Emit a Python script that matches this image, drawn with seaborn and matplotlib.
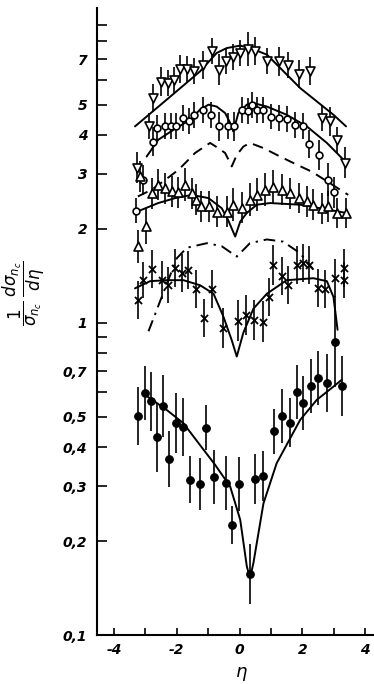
import numpy as np
import pandas as pd
import matplotlib
matplotlib.use("Agg")
import matplotlib.pyplot as plt
from matplotlib.ticker import NullLocator
import seaborn as sns

# ---------------- data ----------------
# inverted triangles (top series)
tri_dn_eta = [-3.27, -2.90, -2.76, -2.50, -2.29, -2.09, -1.89, -1.66, -1.44, -1.18, -0.87, -0.65, -0.43,
              -0.20, 0.02, 0.28, 0.49, 0.87, 1.26, 1.54, 1.90, 2.25, 2.62, 2.88, 3.10, 3.36]
tri_dn_val = [3.14, 4.26, 5.25, 5.93, 5.87, 6.01, 6.52, 6.52, 6.42, 6.71, 7.41, 6.47, 6.88,
              7.11, 7.32, 7.54, 7.41, 6.88, 6.88, 6.68, 6.28, 6.42, 4.53, 4.42, 3.86, 3.26]
tri_dn_err = [0.12, 0.10, 0.11, 0.11, 0.10, 0.10, 0.11, 0.10, 0.10, 0.11, 0.10, 0.12, 0.10,
              0.10, 0.10, 0.13, 0.11, 0.10, 0.11, 0.10, 0.11, 0.11, 0.10, 0.11, 0.10, 0.12]
fit_top_eta = [-3.33, -2.32, -1.26, -0.73, -0.41, 0.02, 0.40, 0.87, 1.93, 2.99, 3.39]
fit_top_val = [4.26, 5.19, 6.39, 7.32, 7.59, 7.73, 7.55, 7.23, 5.65, 4.64, 4.26]

# open circles
circ_eta = [-3.30, -3.06, -2.76, -2.62, -2.39, -2.19, -2.02, -1.81, -1.60, -1.44, -1.18, -0.91, -0.65,
            -0.38, -0.17, 0.07, 0.28, 0.39, 0.57, 0.76, 0.99, 1.24, 1.50, 1.77, 2.03, 2.22, 2.53, 2.81, 3.02]
circ_val = [2.29, 2.87, 3.81, 4.21, 4.26, 4.26, 4.28, 4.53, 4.42, 4.64, 4.82, 4.64, 4.26,
            4.26, 4.26, 4.82, 4.76, 5.00, 4.82, 4.82, 4.58, 4.53, 4.51, 4.31, 4.26, 3.75, 3.45, 2.87, 2.62]
circ_err = [0.10, 0.12, 0.11, 0.10, 0.10, 0.10, 0.10, 0.10, 0.10, 0.10, 0.10, 0.10, 0.11,
            0.10, 0.11, 0.10, 0.10, 0.10, 0.10, 0.10, 0.10, 0.10, 0.10, 0.10, 0.10, 0.11, 0.12, 0.13, 0.12]
fit_circ_eta = [-2.96, -2.59, -2.11, -1.58, -1.26, -0.99, -0.73, -0.46, -0.30, -0.20, -0.04, 0.23, 0.44,
                0.87, 1.50, 2.14, 2.78, 3.31]
fit_circ_val = [3.41, 3.86, 4.15, 4.47, 4.82, 5.00, 4.93, 4.70, 4.37, 4.10, 4.70, 5.00, 5.06,
                4.93, 4.64, 4.26, 3.77, 3.33]

# dashed curve
dash_eta = [-3.24, -2.80, -2.37, -1.95, -1.68, -1.42, -0.94, -0.68, -0.46, -0.30, -0.25, -0.09, 0.12,
            0.33, 0.76, 1.24, 1.77, 2.30, 2.88, 3.46]
dash_val = [2.54, 2.67, 2.87, 3.09, 3.29, 3.50, 3.77, 3.63, 3.50, 3.25, 3.17, 3.45, 3.67,
            3.77, 3.63, 3.43, 3.23, 3.05, 2.80, 2.57]

# open triangles
tri_up_eta = [-3.22, -2.99, -3.17, -2.80, -2.59, -2.37, -2.16, -1.97, -1.74, -1.52, -1.39, -1.23, -0.99,
              -0.73, -0.41, -0.20, 0.07, 0.33, 0.55, 0.81, 1.06, 1.34, 1.61, 1.89, 2.14, 2.35, 2.62,
              2.83, 3.10, 3.39]
tri_up_val = [1.76, 2.04, 2.95, 2.60, 2.77, 2.70, 2.64, 2.62, 2.77, 2.60, 2.48, 2.36, 2.36,
              2.27, 2.27, 2.39, 2.34, 2.48, 2.57, 2.67, 2.73, 2.67, 2.60, 2.51, 2.45, 2.39, 2.33,
              2.36, 2.25, 2.25]
tri_up_err = [0.13, 0.14, 0.12, 0.12, 0.12, 0.12, 0.12, 0.12, 0.13, 0.12, 0.12, 0.12, 0.12,
              0.12, 0.12, 0.13, 0.12, 0.13, 0.13, 0.13, 0.13, 0.12, 0.12, 0.12, 0.12, 0.12, 0.12,
              0.12, 0.12, 0.12]
fit_tri_eta = [-3.27, -2.59, -2.05, -1.52, -0.99, -0.57, -0.37, -0.14, 0.02, 0.23, 0.55, 0.97, 1.93,
               2.56, 3.39]
fit_tri_val = [2.27, 2.42, 2.51, 2.57, 2.51, 2.33, 2.14, 1.89, 2.11, 2.25, 2.39, 2.42, 2.39,
               2.33, 2.25]

# crosses
cross_eta = [-3.22, -3.06, -2.80, -2.46, -2.27, -2.05, -1.84, -1.63, -1.39, -1.13, -0.89, -0.54, -0.06,
             0.20, 0.46, 0.73, 0.94, 1.06, 1.34, 1.55, 1.82, 2.03, 2.22, 2.51, 2.72, 3.04, 3.31, 3.31]
cross_val = [1.185, 1.37, 1.49, 1.37, 1.32, 1.50, 1.44, 1.48, 1.28, 1.035, 1.28, 0.962, 1.017,
             1.06, 1.02, 1.01, 1.21, 1.53, 1.41, 1.32, 1.53, 1.55, 1.53, 1.29, 1.28, 1.39, 1.50, 1.37]
cross_err = [0.15, 0.14, 0.15, 0.15, 0.14, 0.15, 0.15, 0.15, 0.15, 0.15, 0.15, 0.16, 0.16,
             0.16, 0.16, 0.16, 0.15, 0.16, 0.15, 0.15, 0.15, 0.15, 0.15, 0.15, 0.15, 0.15, 0.15, 0.14]
fit_cross_eta = [-3.33, -2.85, -2.32, -1.79, -1.26, -0.83, -0.52, -0.25, -0.09, 0.12, 0.44, 0.87, 1.50,
                 2.35, 2.78, 2.99, 3.12]
fit_cross_val = [1.29, 1.36, 1.37, 1.37, 1.32, 1.24, 1.05, 0.88, 0.78, 0.93, 1.11, 1.24, 1.37,
                 1.39, 1.36, 1.21, 0.95]

# dash-dot curve
dd_eta = [-2.90, -2.48, -2.00, -1.68, -1.04, -0.57, -0.09, 0.33, 0.87, 1.39, 1.93, 2.35]
dd_val = [0.94, 1.21, 1.61, 1.74, 1.80, 1.76, 1.63, 1.80, 1.85, 1.82, 1.67, 1.48]

# filled circles
full_eta = [-3.22, -3.01, -2.83, -2.64, -2.45, -2.24, -2.02, -1.79, -1.58, -1.26, -1.07, -0.80, -0.43,
            -0.25, -0.01, 0.33, 0.49, 0.73, 1.10, 1.34, 1.59, 1.82, 2.03, 2.27, 2.51, 2.78, 3.04, 3.27]
full_val = [0.503, 0.598, 0.560, 0.430, 0.542, 0.367, 0.477, 0.463, 0.314, 0.305, 0.462, 0.320, 0.306,
            0.225, 0.304, 0.157, 0.316, 0.323, 0.449, 0.503, 0.479, 0.602, 0.553, 0.628, 0.665, 0.641,
            0.871, 0.628]
full_err = [0.24, 0.22, 0.24, 0.29, 0.26, 0.23, 0.25, 0.24, 0.19, 0.21, 0.18, 0.22, 0.22,
            0.15, 0.22, 0.25, 0.20, 0.20, 0.18, 0.22, 0.20, 0.22, 0.22, 0.22, 0.22, 0.24,
            0.40, 0.25]
fit_full_eta = [-3.01, -2.32, -1.79, -1.26, -0.78, -0.30, 0.02, 0.23, 0.33, 0.44, 0.76, 1.18, 1.93,
                2.46, 2.99, 3.25]
fit_full_val = [0.588, 0.526, 0.477, 0.406, 0.351, 0.299, 0.234, 0.166, 0.152, 0.170, 0.264, 0.355,
                0.489, 0.567, 0.625, 0.657]

ytick_vals = [0.1, 0.2, 0.3, 0.4, 0.5, 0.6, 0.7, 0.8, 0.9, 1, 2, 3, 4, 5, 6, 7, 8, 9]
ytick_text = ["0,1", "0,2", "0,3", "0,4", "0,5", "", "0,7", "", "", "1", "2", "3", "4", "5", "", "7", "", ""]
xtick_vals = [-4, -3, -2, -1, 0, 1, 2, 3, 4]
xtick_text = ["-4", "", "-2", "", "0", "", "2", "", "4"]

# ---------------- plotting ----------------
sns.set_style("ticks")
plt.rcParams['font.family'] = ['DejaVu Sans']

fig = plt.figure(figsize=(3.74, 6.84), dpi=100)
ax = fig.add_axes([0.2594, 0.0716, 0.7406, 0.9167])
ax.set_yscale('log')

K = 'black'


def errbars(eta, val, err):
    v = np.asarray(val, float)
    f = 1 + np.asarray(err, float)
    lo = v - v / f
    hi = v * f - v
    ax.errorbar(eta, v, yerr=[lo, hi], fmt='none', ecolor=K, elinewidth=1.2, capsize=0, zorder=2)


def curve(eta, val, ls='-'):
    sns.lineplot(x=eta, y=val, sort=False, estimator=None, color=K, lw=1.4,
                 linestyle=ls, ax=ax, zorder=3)


curve(fit_top_eta, fit_top_val)
curve(fit_circ_eta, fit_circ_val)
curve(dash_eta, dash_val, (0, (5.5, 3.5)))
curve(fit_tri_eta, fit_tri_val)
curve(fit_cross_eta, fit_cross_val)
curve(dd_eta, dd_val, (0, (6, 3, 1.2, 3)))
curve(fit_full_eta, fit_full_val)

errbars(tri_dn_eta, tri_dn_val, tri_dn_err)
errbars(circ_eta, circ_val, circ_err)
errbars(tri_up_eta, tri_up_val, tri_up_err)
errbars(cross_eta, cross_val, cross_err)
errbars(full_eta, full_val, full_err)

sns.scatterplot(x=tri_dn_eta, y=tri_dn_val, marker='v', s=42, facecolor='white',
                edgecolor=K, linewidth=1.2, ax=ax, zorder=4)
sns.scatterplot(x=circ_eta, y=circ_val, marker='o', s=24, facecolor='white',
                edgecolor=K, linewidth=1.2, ax=ax, zorder=4)
sns.scatterplot(x=tri_up_eta, y=tri_up_val, marker='^', s=42, facecolor='white',
                edgecolor=K, linewidth=1.2, ax=ax, zorder=4)
sns.scatterplot(x=cross_eta, y=cross_val, marker='x', s=26, color=K,
                linewidth=1.3, ax=ax, zorder=4)
sns.scatterplot(x=full_eta, y=full_val, marker='o', s=30, color=K,
                edgecolor=K, linewidth=0.8, ax=ax, zorder=4)

ax.set_xlim(-4.54, 4.28)
ax.set_ylim(0.1, 10.2)

ax.set_yticks(ytick_vals)
ax.set_yticklabels(ytick_text)
ax.yaxis.set_minor_locator(NullLocator())
ax.set_xticks(xtick_vals)
ax.set_xticklabels(xtick_text)
ax.xaxis.set_minor_locator(NullLocator())

for lab in ax.get_yticklabels() + ax.get_xticklabels():
    lab.set_fontstyle('italic')
    lab.set_fontweight('bold')
    lab.set_fontsize(10)

ax.tick_params(axis='y', direction='in', length=7, width=1.2, pad=7, colors=K)
ax.tick_params(axis='x', direction='in', length=5, width=1.2, pad=6, colors=K)

sns.despine(ax=ax, top=True, right=True)
for s in ['left', 'bottom']:
    ax.spines[s].set_linewidth(1.5)
    ax.spines[s].set_color(K)

ax.set_ylabel(r'$\dfrac{1}{\sigma_{n_c}}\;\dfrac{d\sigma_{n_c}}{d\eta}$', fontsize=12, color=K)
ax.yaxis.set_label_coords(-0.18, 0.545)
ax.set_xlabel('η', fontsize=13, fontstyle='italic', color=K)
ax.xaxis.set_label_coords(0.523, -0.045)

fig.savefig('out.png', dpi=100)
